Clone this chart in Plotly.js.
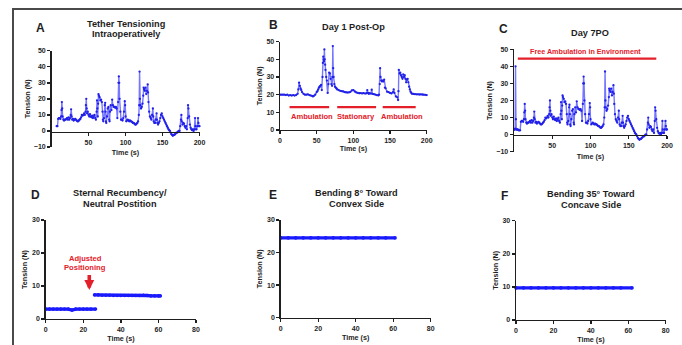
<!DOCTYPE html>
<html>
<head>
<meta charset="utf-8">
<script src="https://cdn.plot.ly/plotly-3.0.1.min.js"></script>
<style>html,body{margin:0;padding:0;background:#fff}#chart{width:682px;height:345px}</style>
</head>
<body>
<div id="chart"></div>
<script>
// ---------- DATA ----------
// Panel A: Tether Tensioning Intraoperatively
const timeA = [7, 8, 9, 10, 11, 12, 13, 13.5, 14, 14.5,
 15, 16, 17, 18, 19, 20, 21, 22, 23, 24,
 25, 26, 26.5, 27, 28, 29, 30, 31, 32, 33,
 34, 35, 36, 37, 38, 39, 40, 41, 42, 43,
 44, 45, 46, 46.5, 47, 47.5, 48, 49, 50, 51,
 52, 53, 54, 55, 56, 57, 58, 59, 60, 61,
 61.5, 62, 62.5, 63, 63.5, 64, 65, 66, 67, 68,
 69, 69.5, 70, 71, 72, 72.5, 73, 73.5, 74, 75,
 76, 77, 78, 78.5, 79, 80, 81, 82, 83, 84,
 85, 86, 87, 88, 89, 90, 90.5, 91, 91.5, 92,
 93, 94, 95, 96, 97, 98, 99, 99.5, 100, 101,
 102, 103, 104, 105, 106, 107, 108, 109, 110, 111,
 112, 113, 114, 115, 116, 117, 118, 118.5, 119, 119.5,
 120, 121, 122, 123, 124, 124.5, 125, 126, 127, 128,
 129, 130, 130.5, 131, 132, 133, 134, 135, 136, 137,
 137.5, 138, 139, 140, 141, 142, 142.5, 143, 144, 145,
 146, 147, 148, 149, 150, 151, 152, 153, 154, 155,
 156, 157, 158, 159, 160, 161, 162, 163, 164, 165,
 166, 167, 168, 169, 170, 171, 172, 173, 174, 175,
 175.5, 176, 177, 178, 179, 180, 181, 182, 183, 184,
 184.5, 185, 186, 187, 188, 189, 190, 191, 192, 193,
 194, 194.5, 195, 196, 197, 198, 198.5, 199, 200];
const tensionA = [3, 3, 7.5, 8, 8, 7.5, 9, 13, 18, 14,
 9, 7, 6.5, 7, 7, 7.5, 8, 7, 8.5, 7,
 8, 10, 13.5, 9, 7, 7.5, 6.5, 7, 7.5, 7,
 6.5, 6, 6, 6.5, 7, 7.5, 8.5, 10, 9.5, 10,
 11, 10, 12, 16, 20, 14, 11, 12, 10, 9,
 10.5, 9, 8.5, 9.5, 8, 9, 10, 8, 7, 12,
 19, 14, 9, 17, 23, 22, 21, 19, 19.5, 18,
 12, 7, 6, 8, 16, 17.5, 12, 6, 5, 9,
 14, 15, 7, 6, 12, 16, 13, 19.5, 16, 15,
 15, 14.5, 15, 14, 8, 18, 30, 34, 30, 20,
 12, 7, 7, 6.5, 8, 12, 18.5, 16, 9, 6,
 6.5, 7, 6.5, 6, 6.5, 6, 6, 5.5, 5, 5,
 4.5, 4, 4, 4.5, 5, 6, 10, 16, 37, 20,
 16, 14, 15, 17, 22, 27, 26, 25, 27, 23,
 25, 29, 24, 18, 12, 9, 8, 7, 10, 14,
 9, 6, 5, 5, 7, 11, 7, 5, 4, 5,
 6, 8, 10, 11, 9, 8, 7, 6, 5, 4,
 3, 2, 1, 0.5, 0, -1, -2, -2.5, -3, -2.5,
 -2.5, -2, -1.5, -1, -1, -0.5, 0, 0, 3, 7,
 10, 6, 4, 5, 4.5, 3, 2, 3, 1, 8,
 16, 14, 9, 4, 2, 1, 0.5, 1, 0, 1,
 8, 3, 1, 1, 3, 8, 5, 3, 3];

// Panel B: Day 1 Post-Op
const timeB = [0, 2, 4, 6, 8, 10, 12, 14, 16, 18,
 20, 22, 24, 25, 26, 27, 28, 29, 30, 32,
 34, 36, 38, 40, 42, 44, 45, 46, 48, 50,
 51, 52, 53, 54, 55, 56, 57, 58, 58.5, 59,
 59.5, 60, 60.5, 61, 61.5, 62, 63, 64, 65, 66,
 67, 68, 69, 70, 71, 71.5, 72, 72.5, 73, 74,
 75, 76, 77, 78, 80, 82, 84, 86, 88, 90,
 92, 94, 96, 98, 100, 102, 104, 106, 108, 110,
 112, 114, 116, 118, 119, 120, 121, 122, 124, 125,
 126, 128, 130, 132, 134, 135, 136, 136.5, 137, 138,
 139, 140, 141, 142, 143, 144, 146, 148, 150, 152,
 154, 155, 156, 158, 160, 161, 161.5, 162, 163, 164,
 165, 166, 167, 168, 169, 170, 171, 172, 173, 174,
 175, 176, 177, 178, 179, 180, 182, 184, 186, 188,
 190, 192, 194, 196, 198, 200];
const tensionB = [20, 20, 20, 20, 19.8, 20, 19.5, 19.8, 19.5, 19.8,
 19.5, 19.8, 20.5, 23, 26.8, 25, 23.5, 22.6, 21.5, 20.5,
 20, 20, 20.2, 19.8, 19.5, 19.2, 19, 19.3, 20, 21.5,
 22, 23, 24, 24.5, 25, 25.5, 22.6, 30, 38, 41.5,
 40, 39, 45.6, 40, 37, 34, 30, 28, 21, 26,
 32.5, 32, 29, 26, 25, 30, 47.5, 35, 30, 26,
 24.5, 24, 23.5, 23, 22.6, 22.2, 22, 21.8, 21.5, 21.3,
 21.2, 21.3, 21.6, 22.4, 22.6, 21.8, 21.3, 21, 20.8, 20.9,
 20.7, 20.9, 20.6, 20.8, 22.6, 21, 20.5, 20.8, 20.6, 22.8,
 20.5, 20.3, 20, 19.8, 19.6, 20, 26, 35, 30, 28,
 27.5, 28, 27.5, 28.5, 24, 23.6, 21.7, 21.5, 21, 20.7,
 21.5, 23, 21, 19, 18.5, 17, 22, 34, 32, 32.5,
 31, 30, 29, 31.5, 30, 31, 29, 27, 28.5, 29,
 27, 24.5, 23, 21.7, 21, 20.5, 20.4, 20.3, 20.2, 20.2,
 20.1, 20.2, 20.1, 20, 19.9, 19.8];
const phaseStartB = [13, 78, 140];
const phaseEndB = [67, 131, 185];
const phaseLabelB = ['Ambulation', 'Stationary', 'Ambulation'];
const phaseLevelB = 13;

// Panel C: Day 7PO
const timeC = [0.5, 1, 1.5, 2, 2.5, 3, 4, 5, 6, 7,
 8, 9, 10, 11, 12, 13, 13.5, 14, 14.5,
 15, 16, 17, 18, 19, 20, 21, 22, 23, 24,
 25, 26, 26.5, 27, 28, 29, 30, 31, 32, 33,
 34, 35, 36, 37, 38, 39, 40, 41, 42, 43,
 44, 45, 46, 46.5, 47, 47.5, 48, 49, 50, 51,
 52, 53, 54, 55, 56, 57, 58, 59, 60, 61,
 61.5, 62, 62.5, 63, 63.5, 64, 65, 66, 67, 68,
 69, 69.5, 70, 71, 72, 72.5, 73, 73.5, 74, 75,
 76, 77, 78, 78.5, 79, 80, 81, 82, 83, 84,
 85, 86, 87, 88, 89, 90, 90.5, 91, 91.5, 92,
 93, 94, 95, 96, 97, 98, 99, 99.5, 100, 101,
 102, 103, 104, 105, 106, 107, 108, 109, 110, 111,
 112, 113, 114, 115, 116, 117, 118, 118.5, 119, 119.5,
 120, 121, 122, 123, 124, 124.5, 125, 126, 127, 128,
 129, 130, 130.5, 131, 132, 133, 134, 135, 136, 137,
 137.5, 138, 139, 140, 141, 142, 142.5, 143, 144, 145,
 146, 147, 148, 149, 150, 151, 152, 153, 154, 155,
 156, 157, 158, 159, 160, 161, 162, 163, 164, 165,
 166, 167, 168, 169, 170, 171, 172, 173, 174, 175,
 175.5, 176, 177, 178, 179, 180, 181, 182, 183, 184,
 184.5, 185, 186, 187, 188, 189, 190, 191, 192, 193,
 194, 194.5, 195, 196, 197, 198, 198.5, 199, 200];
const tensionC = [3, 3, 3.5, 40, 9, 3, 3, 3, 2.5, 2.5,
 2.5, 7.5, 8, 8, 7.5, 9, 13, 18, 14,
 9, 7, 6.5, 7, 7, 7.5, 8, 7, 8.5, 7,
 8, 10, 13.5, 9, 7, 7.5, 6.5, 7, 7.5, 7,
 6.5, 6, 6, 6.5, 7, 7.5, 8.5, 10, 9.5, 10,
 11, 10, 12, 16, 20, 14, 11, 12, 10, 9,
 10.5, 9, 8.5, 9.5, 8, 9, 10, 8, 7, 12,
 19, 14, 9, 17, 23, 22, 21, 19, 19.5, 18,
 12, 7, 6, 8, 16, 17.5, 12, 6, 5, 9,
 14, 15, 7, 6, 12, 16, 13, 19.5, 16, 15,
 15, 14.5, 15, 14, 8, 18, 30, 34, 30, 20,
 12, 7, 7, 6.5, 8, 12, 18.5, 16, 9, 6,
 6.5, 7, 6.5, 6, 6.5, 6, 6, 5.5, 5, 5,
 4.5, 4, 4, 4.5, 5, 6, 10, 16, 37, 20,
 16, 14, 15, 17, 22, 27, 26, 25, 27, 23,
 25, 29, 24, 18, 12, 9, 8, 7, 10, 14,
 9, 6, 5, 5, 7, 11, 7, 5, 4, 5,
 6, 8, 10, 11, 9, 8, 7, 6, 5, 4,
 3, 2, 1, 0.5, 0, -1, -2, -2.5, -3, -2.5,
 -2.5, -2, -1.5, -1, -1, -0.5, 0, 0, 3, 7,
 10, 6, 4, 5, 4.5, 3, 2, 3, 1, 8,
 16, 14, 9, 4, 2, 1, 0.5, 1, 0, 1,
 8, 3, 1, 1, 3, 8, 5, 3, 3];
const phaseStartC = [5];
const phaseEndC = [186];
const phaseLabelC = ['Free Ambulation in Environment'];
const phaseLevelC = 44.5;

// Panel D: Sternal Recumbency / Neutral Position
const timeD1 = [0, 2, 4, 6, 8, 10, 12, 14, 16, 18, 20, 22, 24, 26.5];
const tensionD1 = [3, 3, 3, 3, 3, 3, 3, 2.7, 3, 3, 3, 3, 3, 3];
const timeD2 = [26, 28, 30, 32, 34, 36, 38, 40, 42, 44, 46, 48, 50, 52, 54, 56, 58, 60, 61];
const tensionD2 = [7.3, 7.3, 7.2, 7.2, 7.2, 7.1, 7.1, 7.1, 7.1, 7.1, 7.1, 7.1, 7.1, 7.2, 7.1, 7, 7, 7, 7];

// Panel E: Bending 8° toward convex side
const timeE = [0, 4, 8, 12, 16, 20, 24, 28, 32, 36, 40, 44, 48, 52, 56, 61];
const tensionE = [24.5, 24.5, 24.5, 24.5, 24.5, 24.5, 24.5, 24.5, 24.5, 24.5, 24.5, 24.5, 24.5, 24.5, 24.5, 24.5];

// Panel F: Bending 35° toward concave side
const timeF = [0, 4, 8, 12, 16, 20, 24, 28, 32, 36, 40, 44, 48, 52, 56, 62];
const tensionF = [9.7, 9.7, 9.7, 9.7, 9.7, 9.7, 9.7, 9.7, 9.7, 9.7, 9.7, 9.7, 9.7, 9.7, 9.7, 9.7];

// Tick labels
const ticksTop = [50, 100, 150, 200];
const ticksB = [0, 50, 100, 150, 200];
const ticksBottom = [0, 20, 40, 60, 80];

// ---------- LAYOUT ----------
const W = 682, H = 345;
const fx = p => p / W;
const fy = p => 1 - p / H;
const FONT = 'Liberation Sans, Arial, Helvetica, sans-serif';
const RED = '#e3202a';
const INK = '#1e1e1e';

function axisBase(extra) {
  return Object.assign({
    showgrid: false, zeroline: false, showline: true,
    linecolor: INK, linewidth: 1.4,
    ticks: 'outside', ticklen: 3, tickwidth: 1.4, tickcolor: INK,
    tickfont: {family: FONT, size: 7, weight: 700, color: INK},
    automargin: false, fixedrange: true
  }, extra);
}
function xTitle(s) { return {text: 'Time (s)', font: {family: FONT, size: 7.2, weight: 700, color: INK}, standoff: s}; }
function yTitle(s) { return {text: 'Tension (N)', font: {family: FONT, size: 7.2, weight: 700, color: INK}, standoff: s}; }

const denseStyle = {
  mode: 'lines+markers', cliponaxis: false, showlegend: false, hoverinfo: 'skip',
  line: {color: 'rgba(45,45,255,0.65)', width: 1.4},
  marker: {color: '#2020e8', size: 2.3}
};
const flatStyle = {
  mode: 'lines+markers', cliponaxis: false, showlegend: false, hoverinfo: 'skip',
  line: {color: '#1a1aff', width: 3.4},
  marker: {color: '#1a1aff', size: 3.6}
};

const traces = [
  Object.assign({x: timeA, y: tensionA, xaxis: 'x', yaxis: 'y'}, denseStyle),
  Object.assign({x: timeB, y: tensionB, xaxis: 'x2', yaxis: 'y2'}, denseStyle),
  Object.assign({x: timeC, y: tensionC, xaxis: 'x3', yaxis: 'y3'}, denseStyle),
  Object.assign({x: timeD1, y: tensionD1, xaxis: 'x4', yaxis: 'y4'}, flatStyle),
  Object.assign({x: timeD2, y: tensionD2, xaxis: 'x4', yaxis: 'y4'}, flatStyle),
  Object.assign({x: timeE, y: tensionE, xaxis: 'x5', yaxis: 'y5'}, flatStyle),
  Object.assign({x: timeF, y: tensionF, xaxis: 'x6', yaxis: 'y6'}, flatStyle)
];
// phase bars
phaseStartB.forEach((s, i) => traces.push({
  x: [s, phaseEndB[i]], y: [phaseLevelB, phaseLevelB], xaxis: 'x2', yaxis: 'y2',
  mode: 'lines', line: {color: RED, width: 2.2}, showlegend: false, hoverinfo: 'skip', cliponaxis: false
}));
phaseStartC.forEach((s, i) => traces.push({
  x: [s, phaseEndC[i]], y: [phaseLevelC, phaseLevelC], xaxis: 'x3', yaxis: 'y3',
  mode: 'lines', line: {color: RED, width: 2.2}, showlegend: false, hoverinfo: 'skip', cliponaxis: false
}));

const anns = [];
function txt(t, x, y, size, opts) {
  anns.push(Object.assign({
    text: t, x: fx(x), y: fy(y), xref: 'paper', yref: 'paper',
    xanchor: 'center', yanchor: 'middle', showarrow: false,
    font: {family: FONT, size: size, weight: 700, color: INK}
  }, opts || {}));
}
// panel letters
txt('A', 40, 28, 12);
txt('B', 273, 25, 12);
txt('C', 503, 29, 12);
txt('D', 35, 195, 12);
txt('E', 273, 195, 12);
txt('F', 504, 196, 12);
// panel titles (one annotation per line)
const TS = 9.2;
txt('Tether Tensioning', 126, 23.5, TS);
txt('Intraoperatively', 126, 34.5, TS);
txt('Day 1 Post-Op', 353, 27, TS);
txt('Day 7PO', 590, 33, TS);
txt('Sternal Recumbency/', 120, 192.5, TS);
txt('Neutral Postition', 120, 203.8, TS);
txt('Bending 8° Toward', 356, 192.5, TS);
txt('Convex Side', 356, 203.8, TS);
txt('Bending 35° Toward', 591, 193.5, TS);
txt('Concave Side', 591, 204.8, TS);

const redFont = {family: 'Liberation Sans Narrow, Arial Narrow, Liberation Sans, sans-serif', size: 7.6, weight: 700, color: RED};
const labelXB = [44, 104, 166];
phaseLabelB.forEach((l, i) => anns.push({text: l, x: labelXB[i], y: 7.5, xref: 'x2', yref: 'y2', showarrow: false, font: redFont}));
phaseLabelC.forEach((l) => anns.push({text: l, x: 93, y: 48.6, xref: 'x3', yref: 'y3', showarrow: false, font: Object.assign({}, redFont, {size: 7.2})}));
// D annotation
anns.push({text: 'Adjusted', x: 21, y: 18.2, xref: 'x4', yref: 'y4', showarrow: false, font: redFont});
anns.push({text: 'Positioning', x: 21, y: 15.6, xref: 'x4', yref: 'y4', showarrow: false, font: redFont});
anns.push({text: '', x: 23.2, y: 8.8, xref: 'x4', yref: 'y4', axref: 'x4', ayref: 'y4', ax: 23.2, ay: 13.8,
  showarrow: true, arrowhead: 2, arrowsize: 0.55, arrowwidth: 3.6, arrowcolor: RED});

const layout = {
  width: W, height: H,
  margin: {l: 0, r: 0, t: 0, b: 0},
  paper_bgcolor: '#fff', plot_bgcolor: 'rgba(0,0,0,0)',
  showlegend: false,
  xaxis: axisBase({domain: [fx(51.5), fx(199.5)], range: [0, 200], tickvals: ticksTop, anchor: 'free', position: fy(131.7), title: xTitle(5)}),
  yaxis: axisBase({domain: [fy(147), fy(50.7)], range: [-10, 50], dtick: 10, anchor: 'x', title: yTitle(2)}),
  xaxis2: axisBase({domain: [fx(280), fx(426.7)], range: [0, 200], tickvals: ticksB, anchor: 'y2', title: xTitle(3)}),
  yaxis2: axisBase({domain: [fy(130), fy(41.7)], range: [0, 50], dtick: 10, anchor: 'x2', title: yTitle(3)}),
  xaxis3: axisBase({domain: [fx(514), fx(667)], range: [0, 200], tickvals: ticksTop, anchor: 'free', position: fy(135), title: xTitle(6)}),
  yaxis3: axisBase({domain: [fy(151.7), fy(49.3)], range: [-10, 50], dtick: 10, anchor: 'x3', title: yTitle(3)}),
  xaxis4: axisBase({domain: [fx(45.7), fx(196)], range: [0, 80], tickvals: ticksBottom, anchor: 'y4', title: xTitle(4)}),
  yaxis4: axisBase({domain: [fy(319), fy(220)], range: [0, 30], dtick: 10, anchor: 'x4', title: yTitle(3)}),
  xaxis5: axisBase({domain: [fx(280.7), fx(430.7)], range: [0, 80], tickvals: ticksBottom, anchor: 'y5', title: xTitle(4)}),
  yaxis5: axisBase({domain: [fy(317.7), fy(220)], range: [0, 30], dtick: 10, anchor: 'x5', title: yTitle(3)}),
  xaxis6: axisBase({domain: [fx(516), fx(665.7)], range: [0, 80], tickvals: ticksBottom, anchor: 'y6', title: xTitle(4)}),
  yaxis6: axisBase({domain: [fy(320), fy(220.7)], range: [0, 30], dtick: 10, anchor: 'x6', title: yTitle(3)}),
  annotations: anns,
  shapes: [
    {type: 'line', xref: 'paper', yref: 'paper', x0: fx(12), x1: 1, y0: fy(9), y1: fy(9), line: {color: '#4a4a4a', width: 2}},
    {type: 'line', xref: 'paper', yref: 'paper', x0: fx(13), x1: fx(13), y0: fy(8), y1: 0, line: {color: '#4a4a4a', width: 2}}
  ]
};

Plotly.newPlot('chart', traces, layout, {displayModeBar: false, staticPlot: true});
</script>
</body>
</html>
